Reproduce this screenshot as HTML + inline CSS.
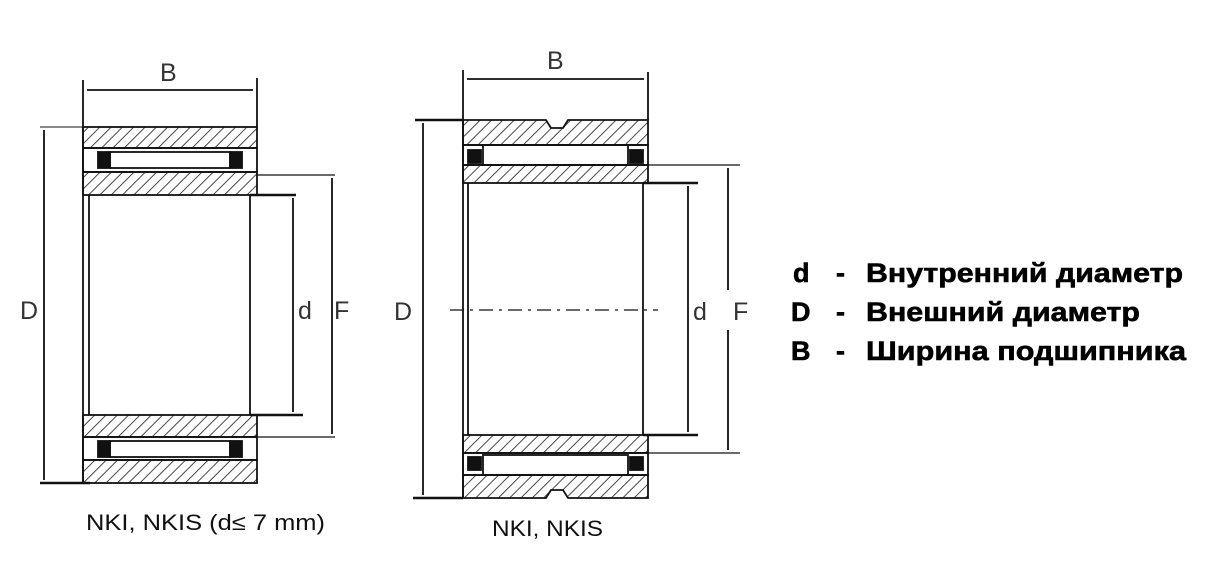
<!DOCTYPE html>
<html><head><meta charset="utf-8"><style>
html,body{margin:0;padding:0;background:#fff;}
svg{display:block;}
</style></head><body>
<svg width="1228" height="561" viewBox="0 0 1228 561" xmlns="http://www.w3.org/2000/svg" font-family="Liberation Sans, sans-serif">
<defs>
<pattern id="h" width="8" height="8" patternUnits="userSpaceOnUse" patternTransform="rotate(45)">
<rect width="8" height="8" fill="#fff"/><line x1="0" y1="0" x2="0" y2="8" stroke="#333" stroke-width="1.8"/>
</pattern>
</defs>
<g stroke="#111" fill="none" stroke-width="1.8">
<rect x="83" y="127" width="174" height="21" fill="url(#h)"/>
<rect x="83" y="172" width="174" height="23" fill="url(#h)"/>
<rect x="83" y="415" width="174" height="22" fill="url(#h)"/>
<rect x="83" y="460" width="174" height="23" fill="url(#h)"/>
<rect x="83" y="148" width="174" height="24"/>
<rect x="83" y="437" width="174" height="23"/>
<rect x="110" y="152" width="120" height="16"/>
<rect x="110" y="441" width="120" height="16"/>
<rect x="98" y="152" width="12" height="16" fill="#111"/>
<rect x="230" y="152" width="12" height="16" fill="#111"/>
<rect x="98" y="441" width="12" height="16" fill="#111"/>
<rect x="230" y="441" width="12" height="16" fill="#111"/>
<line x1="89" y1="195" x2="89" y2="415"/>
<line x1="250" y1="195" x2="250" y2="415"/>
<line x1="83" y1="80" x2="83" y2="483"/>
<line x1="257" y1="78" x2="257" y2="127"/>
<line x1="87" y1="90" x2="253" y2="90"/>
<line x1="40" y1="127" x2="83" y2="127" stroke-width="1"/>
<line x1="40" y1="483" x2="90" y2="483" stroke-width="2.5"/>
<line x1="44" y1="130" x2="44" y2="480"/>
<line x1="250" y1="195" x2="296" y2="195" stroke-width="2.5"/>
<line x1="250" y1="415" x2="303" y2="415" stroke-width="2.5"/>
<line x1="293" y1="198" x2="293" y2="412"/>
<line x1="257" y1="175" x2="335" y2="175" stroke-width="1.2"/>
<line x1="257" y1="437" x2="335" y2="437" stroke-width="1.2"/>
<line x1="332" y1="178" x2="332" y2="434"/>
<path d="M463 120 H546 L551 128 H563 L568 120 H648 V145 H463 Z" fill="url(#h)"/>
<rect x="463" y="165" width="185" height="18" fill="url(#h)"/>
<rect x="463" y="435" width="185" height="18" fill="url(#h)"/>
<path d="M463 475 H648 V498 H568 L563 490 H551 L546 498 H463 Z" fill="url(#h)"/>
<rect x="463" y="145" width="185" height="20"/>
<rect x="463" y="453" width="185" height="22"/>
<rect x="483" y="145" width="145" height="20"/>
<rect x="483" y="455" width="145" height="20"/>
<rect x="468" y="150" width="13" height="13" fill="#111"/>
<rect x="630" y="150" width="13" height="13" fill="#111"/>
<rect x="468" y="457" width="13" height="13" fill="#111"/>
<rect x="630" y="457" width="13" height="13" fill="#111"/>
<line x1="468" y1="183" x2="468" y2="435"/>
<line x1="643" y1="183" x2="643" y2="435"/>
<line x1="450" y1="310" x2="658" y2="310" stroke-dasharray="14 6 3 6" stroke-width="1.2"/>
<line x1="463" y1="70" x2="463" y2="498"/>
<line x1="648" y1="72" x2="648" y2="120"/>
<line x1="467" y1="79" x2="644" y2="79"/>
<line x1="415" y1="120" x2="463" y2="120" stroke-width="2.5"/>
<line x1="413" y1="498" x2="463" y2="498" stroke-width="2.5"/>
<line x1="423" y1="123" x2="423" y2="495"/>
<line x1="643" y1="183" x2="698" y2="183" stroke-width="2.5"/>
<line x1="643" y1="435" x2="698" y2="435" stroke-width="2.5"/>
<line x1="688" y1="186" x2="688" y2="432"/>
<line x1="648" y1="165" x2="740" y2="165" stroke-width="1.2"/>
<line x1="648" y1="453" x2="740" y2="453" stroke-width="1.2"/>
<line x1="728" y1="168" x2="728" y2="290"/>
<line x1="728" y1="330" x2="728" y2="450"/>
</g>
<g fill="#333" font-size="25">
<text x="160" y="81">B</text>
<text x="20" y="319">D</text>
<text x="298" y="319">d</text>
<text x="334" y="319">F</text>
<text x="547" y="69">B</text>
<text x="394" y="320">D</text>
<text x="693" y="320">d</text>
<text x="733" y="320">F</text>
</g>
<g fill="#111" font-size="22">
<text x="86" y="530" textLength="239" lengthAdjust="spacingAndGlyphs">NKI, NKIS (d≤ 7 mm)</text>
<text x="492" y="536" textLength="111" lengthAdjust="spacingAndGlyphs">NKI, NKIS</text>
</g>
<g fill="#000" font-size="27" font-weight="bold" stroke="#000" stroke-width="0.6">
<text x="793" y="282">d</text><text x="836" y="282">-</text><text x="866" y="282" textLength="317" lengthAdjust="spacingAndGlyphs">Внутренний диаметр</text>
<text x="791" y="321">D</text><text x="836" y="321">-</text><text x="866" y="321" textLength="274" lengthAdjust="spacingAndGlyphs">Внешний диаметр</text>
<text x="791" y="360">B</text><text x="836" y="360">-</text><text x="866" y="360" textLength="320" lengthAdjust="spacingAndGlyphs">Ширина подшипника</text>
</g>
</svg>
</body></html>
